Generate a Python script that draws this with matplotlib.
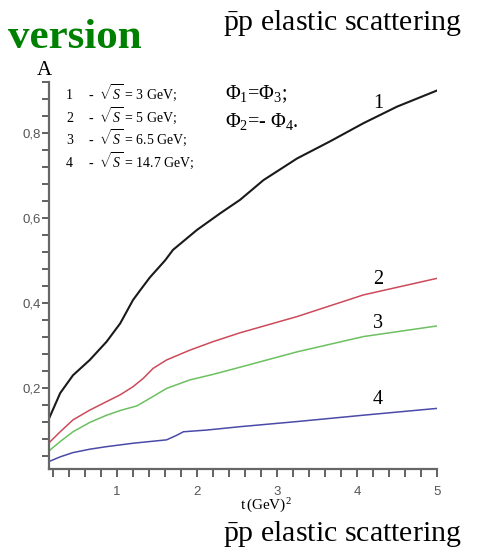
""" Asymmetry A(t) for pbar-p elastic scattering at several energies """

import numpy as np
import matplotlib.pyplot as plt
from matplotlib.ticker import MultipleLocator, FuncFormatter

# curve 1: sqrt(S) = 3 GeV
t1 = [0.15, 0.29, 0.45, 0.66, 0.87, 1.04, 1.2, 1.29, 1.41, 1.6, 1.7,
      2.0, 2.29, 2.54, 2.83, 3.25, 3.66, 4.08, 4.5, 5.0]
a1 = [0.128, 0.188, 0.23, 0.266, 0.309, 0.352, 0.407, 0.43, 0.46, 0.50,
      0.525, 0.572, 0.611, 0.643, 0.689, 0.74, 0.78, 0.823, 0.862, 0.90]

# curve 2: sqrt(S) = 5 GeV
t2 = [0.15, 0.29, 0.45, 0.66, 0.87, 1.04, 1.2, 1.33, 1.45, 1.62, 1.91,
      2.2, 2.54, 3.25, 4.08, 5.0]
a2 = [0.071, 0.097, 0.125, 0.148, 0.168, 0.184, 0.203, 0.223, 0.246,
      0.266, 0.289, 0.309, 0.33, 0.368, 0.419, 0.458]

# curve 3: sqrt(S) = 6.5 GeV
t3 = [0.15, 0.29, 0.45, 0.66, 0.87, 1.04, 1.25, 1.45, 1.62, 1.91, 2.2,
      2.54, 3.25, 4.08, 5.0]
a3 = [0.052, 0.074, 0.097, 0.119, 0.136, 0.147, 0.158, 0.18, 0.199,
      0.219, 0.232, 0.249, 0.285, 0.321, 0.346]

# curve 4: sqrt(S) = 14.7 GeV
t4 = [0.15, 0.29, 0.45, 0.66, 0.87, 1.2, 1.41, 1.62, 1.75, 1.83, 2.12,
      2.54, 3.25, 4.08, 5.0]
a4 = [0.027, 0.038, 0.048, 0.056, 0.062, 0.07, 0.074, 0.078, 0.089,
      0.097, 0.101, 0.109, 0.121, 0.136, 0.152]

energies = ["3", "5", "6.5", "14.7"]
curve_ids = ["1", "2", "3", "4"]

plt.rcParams.update({
    'mathtext.fontset': 'custom',
    'mathtext.rm': 'Liberation Serif',
    'mathtext.it': 'Liberation Serif:italic',
})
serif = 'Liberation Serif'

fig = plt.figure(figsize=(4.78, 5.52), dpi=100)
W, H = 478, 552
ax = fig.add_axes([49 / W, 1 - 469 / H, (437 - 49) / W, (469 - 82) / H])

ax.plot(t1, a1, color='#1a1a1a', lw=1.5)
ax.plot(t2, a2, color='#cc4a5a', lw=1.1)
ax.plot(t3, a3, color='#6cc060', lw=1.1)
ax.plot(t4, a4, color='#4a4aa8', lw=1.1)

ax.set_xlim(0.15, 5.0)
ax.set_ylim(0.0094, 0.92)

for s in ('top', 'right'):
    ax.spines[s].set_visible(False)
for s in ('left', 'bottom'):
    ax.spines[s].set_color('#666666')
    ax.spines[s].set_linewidth(1.6)

ax.xaxis.set_major_locator(MultipleLocator(1))
ax.xaxis.set_minor_locator(MultipleLocator(0.2))
ax.yaxis.set_major_locator(MultipleLocator(0.2))
ax.yaxis.set_minor_locator(MultipleLocator(0.04))
ax.yaxis.set_major_formatter(FuncFormatter(lambda v, p: f"{v:.1f}".replace('.', ',')))
ax.xaxis.set_major_formatter(FuncFormatter(lambda v, p: f"{v:.0f}"))

ax.tick_params(which='both', direction='out', color='#555555', width=1.3,
               labelsize=9.5, labelcolor='#555555', labelfontfamily='Liberation Sans')
ax.tick_params(axis='y', which='both', length=5, pad=1)
ax.tick_params(axis='x', which='both', length=6, pad=6)

def fx(px):
    return px / W

def fy(py):
    return 1 - py / H

# headings
fig.text(fx(142), fy(48), "version", color='#008000', fontsize=31,
         fontweight='bold', family=serif, ha='right', va='baseline')
fig.text(fx(223), fy(30), r"$\mathrm{\bar{p}p}$ elastic scattering",
         fontsize=21.5, family=serif, ha='left', va='baseline')
fig.text(fx(223), fy(541), r"$\mathrm{\bar{p}p}$ elastic scattering",
         fontsize=21.5, family=serif, ha='left', va='baseline')

# axis titles
fig.text(fx(37), fy(75), "A", fontsize=15, family=serif, ha='left', va='baseline')
fig.text(fx(240), fy(510), r"t$\,$(GeV)$^2$", fontsize=11, family=serif,
         ha='left', va='baseline')

# energy list
for i, (cid, e) in enumerate(zip(curve_ids, energies)):
    y = 99 + 22.7 * i
    fig.text(fx(66), fy(y), cid, fontsize=10, family=serif, ha='left', va='baseline')
    fig.text(fx(88), fy(y), r"-  $\sqrt{S}$ = " + e + " GeV;", fontsize=10,
             family=serif, ha='left', va='baseline')

# phase relations
fig.text(fx(225), fy(99), r"$\Phi_1$=$\Phi_3$;", fontsize=14.5, family=serif,
         ha='left', va='baseline')
fig.text(fx(225), fy(127), r"$\Phi_2$=- $\Phi_4$.", fontsize=14.5, family=serif,
         ha='left', va='baseline')

# curve numbers
for cid, py in zip(curve_ids, [104, 280, 323, 400]):
    fig.text(fx(378), fy(py), cid, fontsize=14.5, family=serif, ha='center', va='center')

fig.savefig("out.png", dpi=100, facecolor='white')
